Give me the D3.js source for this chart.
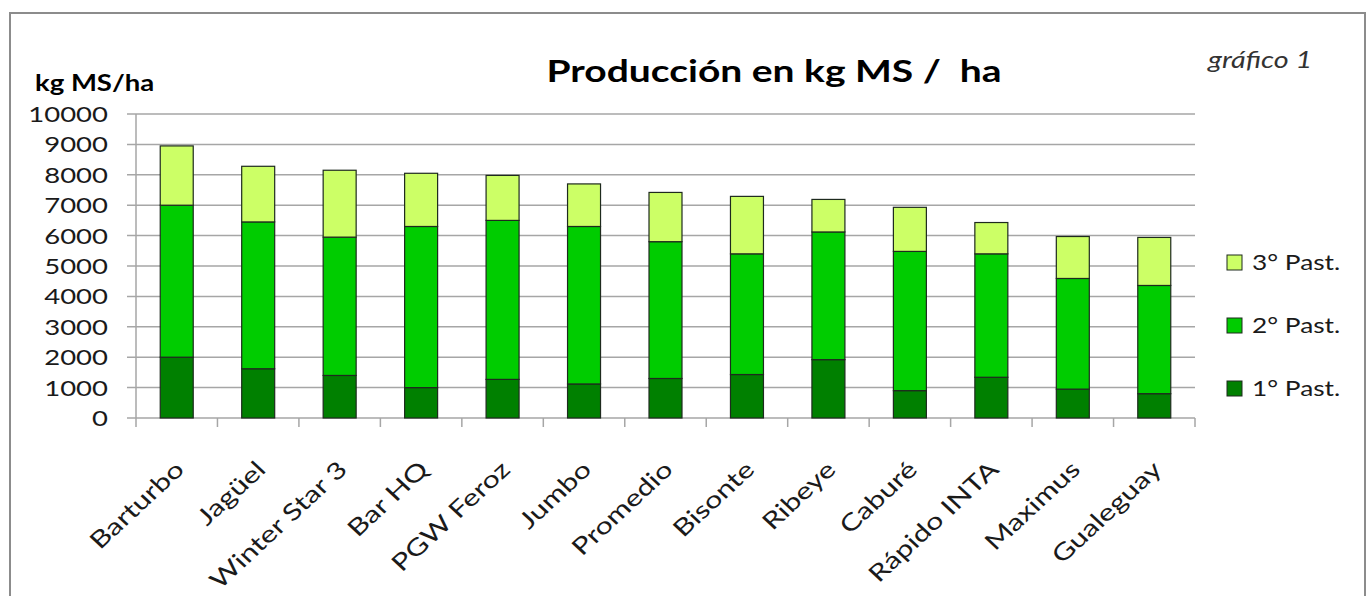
<!DOCTYPE html>
<html>
<head>
<meta charset="utf-8">
<script src="https://cdn.jsdelivr.net/npm/d3@7"></script>
<style>
  body { margin: 0; background: #fff; }
  text { font-family: Lato, "Open Sans", sans-serif; fill: #1a1a1a; }
</style>
</head>
<body>
<div id="chart"></div>
<script>
// Cultivars, in chart order.
var cultivars = ['Barturbo', 'Jagüel', 'Winter Star 3', 'Bar HQ', 'PGW Feroz', 'Jumbo',
  'Promedio', 'Bisonte', 'Ribeye', 'Caburé', 'Rápido INTA', 'Maximus', 'Gualeguay'];

// kg MS/ha per grazing.
var past1 = [2000, 1620, 1400, 1000, 1270, 1120, 1300, 1430, 1920, 900, 1340, 950, 800];
var past2 = [5000, 4830, 4550, 5300, 5230, 5180, 4500, 3970, 4200, 4580, 4060, 3640, 3560];
var past3 = [1950, 1830, 2200, 1750, 1480, 1400, 1620, 1890, 1070, 1450, 1030, 1380, 1580];

var seriesNames = ['1° Past.', '2° Past.', '3° Past.'];
var seriesColors = ['#008000', '#00cc00', '#ccff66'];
var yTicks = [0, 1000, 2000, 3000, 4000, 5000, 6000, 7000, 8000, 9000, 10000];

// Text in the original is wide; stretch horizontally.
var SX = 1.25;

var WIDTH = 1368, HEIGHT = 596;
var LEFT = 136, RIGHT = 1195, TOP = 114, BOTTOM = 418;
var BAR_FRAC = 0.405;

function main() {
  var svg = d3.select('#chart').append('svg')
    .attr('width', WIDTH)
    .attr('height', HEIGHT);

  svg.append('rect')
    .attr('x', 10).attr('y', 13)
    .attr('width', 1355).attr('height', 620)
    .attr('fill', '#fff')
    .attr('stroke', '#8c8c8c')
    .attr('stroke-width', 2);

  var x = d3.scaleBand().domain(cultivars).range([LEFT, RIGHT]).padding(0);
  var y = d3.scaleLinear().domain([0, 10000]).range([BOTTOM, TOP]);

  // Gridlines and y axis labels.
  svg.append('g').selectAll('line')
    .data(yTicks)
  .enter().append('line')
    .attr('x1', LEFT - 9).attr('x2', RIGHT)
    .attr('y1', function(d) { return y(d); })
    .attr('y2', function(d) { return y(d); })
    .attr('stroke', '#a6a6a6')
    .attr('stroke-width', 1.5);

  svg.append('g').selectAll('text')
    .data(yTicks)
  .enter().append('text')
    .attr('transform', function(d) { return 'translate(108,' + (y(d) + 8) + ') scale(' + SX + ',1)'; })
    .attr('text-anchor', 'end')
    .style('font-size', '22px')
    .text(function(d) { return d; });

  // Left axis line and category ticks.
  svg.append('line')
    .attr('x1', LEFT).attr('x2', LEFT)
    .attr('y1', TOP).attr('y2', BOTTOM + 9)
    .attr('stroke', '#a6a6a6').attr('stroke-width', 1.5);

  var edges = cultivars.map(function(c) { return x(c); }).concat([RIGHT]);
  svg.append('g').selectAll('line')
    .data(edges.slice(1))
  .enter().append('line')
    .attr('x1', function(d) { return d; })
    .attr('x2', function(d) { return d; })
    .attr('y1', BOTTOM).attr('y2', BOTTOM + 9)
    .attr('stroke', '#a6a6a6').attr('stroke-width', 1.5);

  // Stacked bars.
  var rows = cultivars.map(function(c, i) {
    return {name: c, p1: past1[i], p2: past2[i], p3: past3[i]};
  });
  var stack = d3.stack().keys(['p1', 'p2', 'p3'])(rows);
  var bw = x.bandwidth() * BAR_FRAC;

  svg.append('g').selectAll('g')
    .data(stack)
  .enter().append('g')
    .attr('fill', function(d, i) { return seriesColors[i]; })
    .selectAll('rect')
    .data(function(d) { return d; })
  .enter().append('rect')
    .attr('x', function(d) { return x(d.data.name) + (x.bandwidth() - bw) / 2; })
    .attr('y', function(d) { return y(d[1]); })
    .attr('width', bw)
    .attr('height', function(d) { return y(d[0]) - y(d[1]); })
    .attr('stroke', '#1e2a1e')
    .attr('stroke-width', 1.2);

  // Category labels, rotated (whole picture is a bit wide, so stretch after rotating).
  svg.append('g').selectAll('text')
    .data(cultivars)
  .enter().append('text')
    .attr('transform', function(d) {
      return 'translate(' + (x(d) + x.bandwidth() / 2 + 9) + ',471) scale(1.08,1) rotate(-45) scale(1.25,1)';
    })
    .attr('text-anchor', 'end')
    .style('font-size', '23px')
    .text(function(d) { return d; });

  // Titles.
  svg.append('text')
    .attr('transform', 'translate(774,82) scale(1.3,1)')
    .attr('text-anchor', 'middle')
    .style('font-size', '30px')
    .style('font-weight', 'bold')
    .style('fill', '#000')
    .style('white-space', 'pre')
    .text('Producción en kg MS /  ha');

  svg.append('text')
    .attr('transform', 'translate(35,91) scale(' + SX + ',1)')
    .style('font-size', '22px')
    .style('font-weight', 'bold')
    .style('fill', '#000')
    .text('kg MS/ha');

  svg.append('text')
    .attr('transform', 'translate(1208,68) scale(' + SX + ',1)')
    .style('font-size', '23px')
    .style('font-style', 'italic')
    .style('fill', '#333')
    .text('gráfico 1');

  // Legend, top to bottom: 3°, 2°, 1°.
  var legend = svg.append('g').selectAll('g')
    .data([2, 1, 0])
  .enter().append('g')
    .attr('transform', function(d, i) { return 'translate(1227,' + (255 + i * 63) + ')'; });
  legend.append('rect')
    .attr('width', 15).attr('height', 15)
    .attr('fill', function(d) { return seriesColors[d]; })
    .attr('stroke', '#1e2a1e').attr('stroke-width', 1);
  legend.append('text')
    .attr('transform', 'translate(25,15) scale(' + SX + ',1)')
    .style('font-size', '21px')
    .text(function(d) { return seriesNames[d]; });
}

main();
</script>
</body>
</html>
